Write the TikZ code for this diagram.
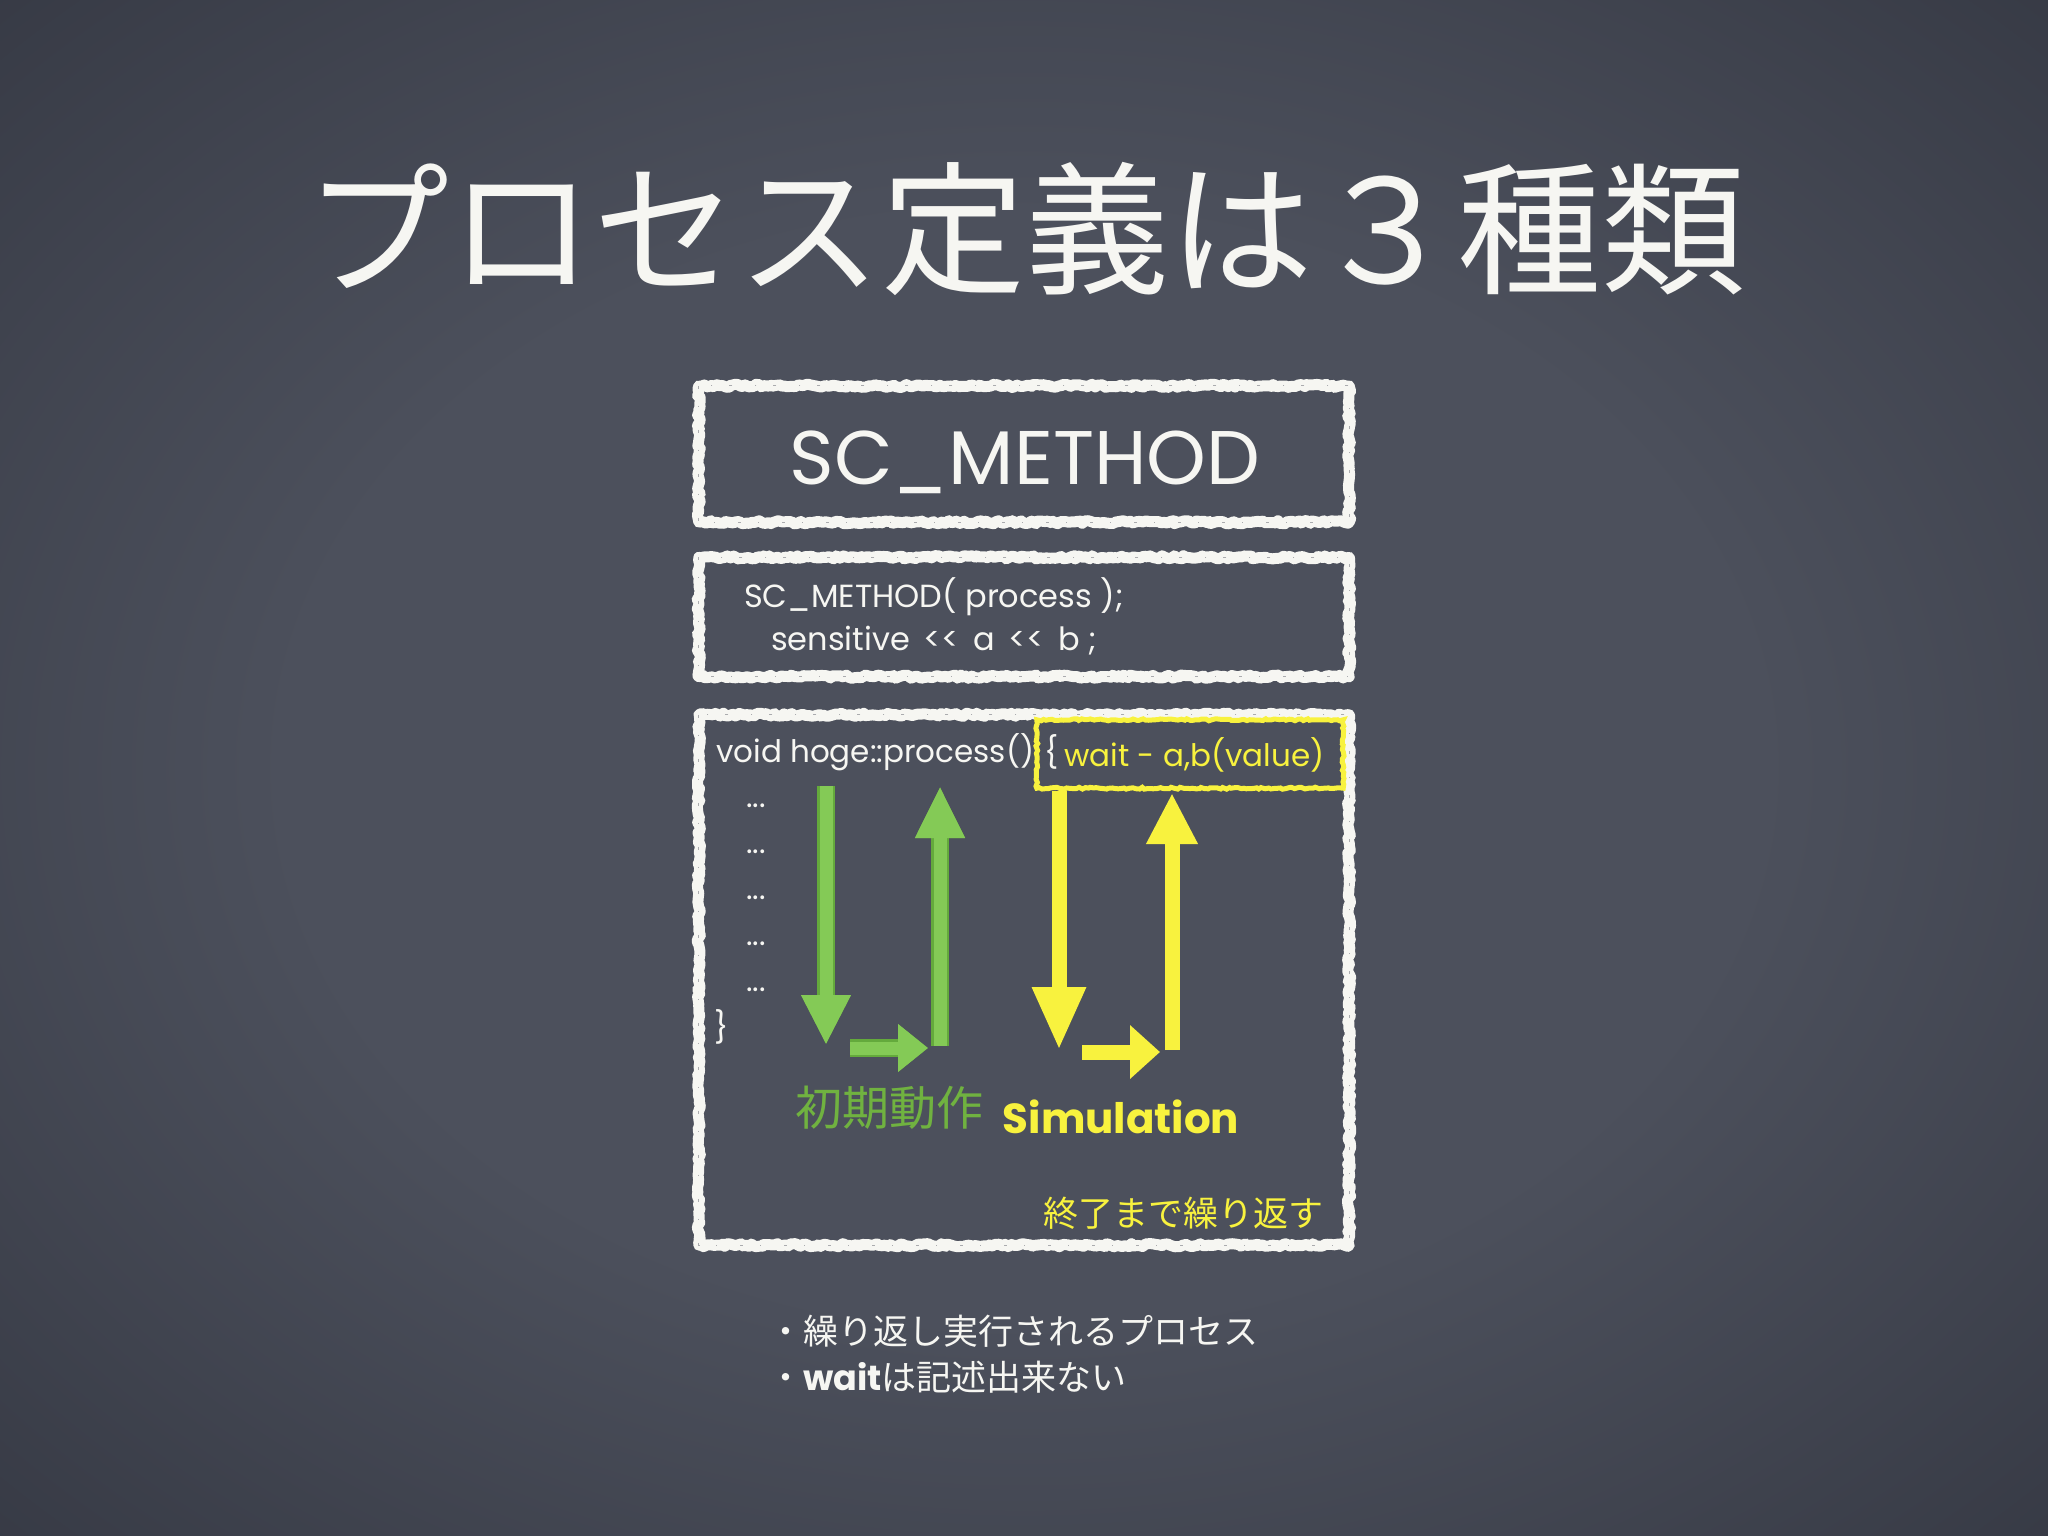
\documentclass[tikz,border=0pt]{standalone}
\usepackage{fontspec}
\setmainfont{Poppins}
\newfontfamily\jpfont{Noto Sans CJK JP}
\usetikzlibrary{arrows.meta,decorations.pathmorphing}

\definecolor{boardin}{RGB}{76,80,92}
\definecolor{boardout}{RGB}{38,41,51}
\definecolor{chalk}{RGB}{246,246,242}
\definecolor{grlight}{RGB}{132,202,86}
\definecolor{grdark}{RGB}{100,170,60}
\definecolor{grtext}{RGB}{112,178,64}
\definecolor{yellowchalk}{RGB}{248,242,62}

\pgfdeclareradialshading{boardshade}{\pgfpoint{0bp}{0bp}}{color(0bp)=(boardin); color(18bp)=(boardin); color(50bp)=(boardout)}

\tikzset{
    chalkline/.style={draw=chalk, line width=11pt, line join=round, decorate,
        decoration={random steps, segment length=3pt, amplitude=1.6pt}},
    chalkgrain/.style={draw=chalk!55!boardin, line width=1.2pt, dash pattern=on 3pt off 17pt on 1pt off 23pt},
    waitline/.style={draw=yellowchalk, line width=5pt, decorate,
        decoration={random steps, segment length=3pt, amplitude=1pt}},
    frame/.style={minimum width=650pt, inner sep=0pt, text=chalk},
    codetext/.style={text=chalk, inner sep=0pt, font=\fontsize{31}{36}\selectfont},
    greenarrow/.style={draw=grlight, line width=13pt,
        preaction={draw=grdark, line width=18pt}},
    yellowarrow/.style={draw=yellowchalk, line width=15pt}
}

\begin{document}
\pgfmathsetseed{42}
\begin{tikzpicture}[x=1pt,y=-1pt]
    % Chalkboard background
    \shade[shading=boardshade] (0,0) rectangle (2048,1536);
    \useasboundingbox (0,0) rectangle (2048,1536);

    % Title
    \node[text=chalk, font=\jpfont\fontsize{144}{160}\selectfont] (title) at (1025,229) {プロセス定義は３種類};

    % Three chalk frames
    \node[frame, minimum height=136pt] (headframe) at (1024,454) {};
    \node[text=chalk, inner sep=0pt, font=\fontsize{76}{80}\selectfont] (headtext) at (1025,462) {SC\_METHOD};
    \node[frame, minimum height=119pt] (codeframe) at (1024,617) {};
    \node[frame, minimum height=530pt] (bodyframe) at (1024,980) {};
    \foreach \f in {headframe,codeframe,bodyframe} {
        \draw[chalkline] (\f.north west) rectangle (\f.south east);
        \draw[chalkgrain] (\f.north west) rectangle (\f.south east);
    }

    % Registration code
    \node[codetext, anchor=west, font=\fontsize{32}{36}\selectfont] (regline) at (744,597) {SC\_METHOD( process );};
    \node[codetext, anchor=west, font=\fontsize{32}{36}\selectfont] (sensline) at (771,641) {sensitive \,<{}<\, a \,<{}<\, b ;};

    % Process body
    \node[codetext, anchor=west] (voidline) at (716,752) {void hoge::process()};
    \node[minimum width=306pt, minimum height=68pt, inner sep=0pt] (waitbox) at (1190,754) {};
    \draw[waitline] (waitbox.north west) rectangle (waitbox.south east);
    \node[codetext, anchor=west] (openbrace) at (1044,752) {\{};
    \node[codetext, anchor=west, text=yellowchalk] (waitline) at (1064,755) {wait - a,b(value)};
    \foreach \y [count=\i] in {806,852,898,944,990}
        \node[codetext] (dots\i) at (756,\y) {...};
    \node[codetext] (closebrace) at (722,1027) {\}};

    % Green arrows: initial run
    \coordinate (gdowntop) at (826,786);
    \coordinate (gdowntip) at (826,1045);
    \coordinate (grighttail) at (850,1048);
    \coordinate (grighttip) at (928,1048);
    \coordinate (guptail) at (940,1046);
    \coordinate (guptip) at (940,786);
    \draw[greenarrow, -{Triangle[width=46pt,length=50pt]}] (gdowntop) -- (gdowntip);
    \draw[greenarrow, -{Triangle[width=46pt,length=30pt]}] (grighttail) -- (grighttip);
    \draw[greenarrow, -{Triangle[width=46pt,length=52pt]}] (guptail) -- (guptip);

    % Yellow arrows: simulation loop
    \coordinate (ydowntop) at (1059,791);
    \coordinate (ydowntip) at (1059,1050);
    \coordinate (yrighttail) at (1082,1052);
    \coordinate (yrighttip) at (1160,1052);
    \coordinate (yuptail) at (1172,1050);
    \coordinate (yuptip) at (1172,793);
    \draw[yellowarrow, -{Triangle[width=50pt,length=63pt]}] (ydowntop) -- (ydowntip);
    \draw[yellowarrow, -{Triangle[width=52pt,length=30pt]}] (yrighttail) -- (yrighttip);
    \draw[yellowarrow, -{Triangle[width=48pt,length=51pt]}] (yuptail) -- (yuptip);

    % Labels
    \node[text=grtext, font=\jpfont\fontsize{47}{52}\selectfont] (initlabel) at (889,1108) {初期動作};
    \node[text=yellowchalk, font=\bfseries\fontsize{42}{48}\selectfont] (simlabel) at (1121,1117) {Simulation};
    \node[text=yellowchalk, font=\jpfont\fontsize{35}{40}\selectfont, anchor=east] (repeatlabel) at (1327,1213) {終了まで繰り返す};

    % Notes below
    \node[text=chalk, anchor=west, inner sep=0pt, font=\jpfont\fontsize{35}{40}\selectfont] (note1) at (768,1331) {・繰り返し実行されるプロセス};
    \node[text=chalk, anchor=west, inner sep=0pt, font=\jpfont\fontsize{35}{40}\selectfont] (note2) at (768,1377) {・{\rmfamily\bfseries wait}は記述出来ない};
\end{tikzpicture}
\end{document}
